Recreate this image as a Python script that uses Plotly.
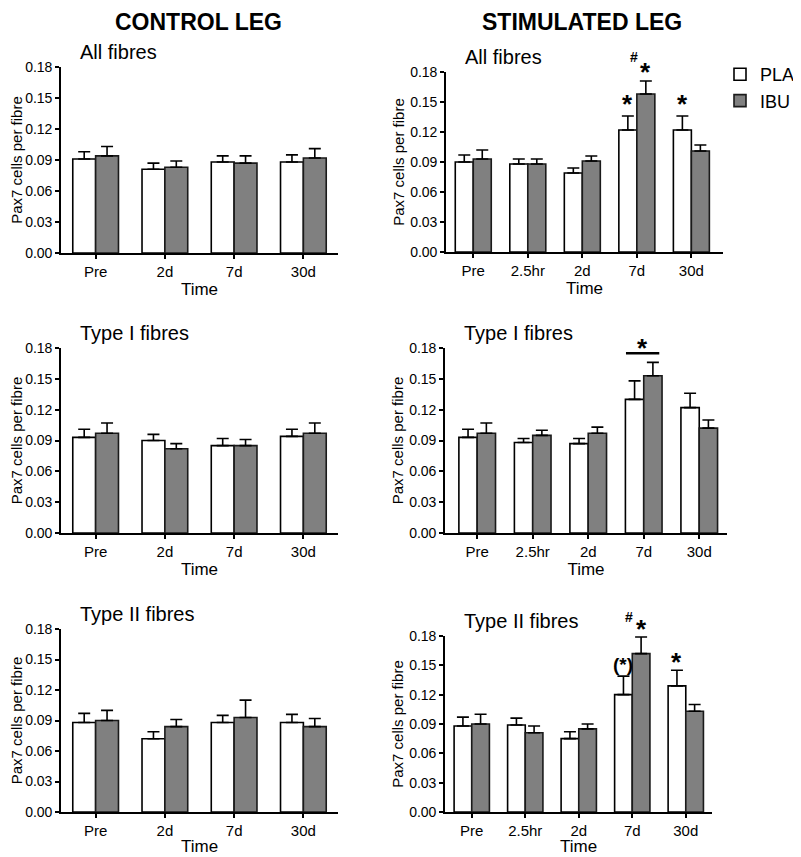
"""Pax7 cells per fibre: control vs stimulated leg, PLA vs IBU."""

import plotly.graph_objects as go

# the page body keeps its default 8px margin, so the figure is drawn 8px in
PAGE_PAD = 8
W, H = 801 - PAGE_PAD, 857 - PAGE_PAD
FONT = "Liberation Sans, Arial, Helvetica, sans-serif"

control_times = ["Pre", "2d", "7d", "30d"]
stim_times = ["Pre", "2.5hr", "2d", "7d", "30d"]

y_ticks = [0.00, 0.03, 0.06, 0.09, 0.12, 0.15, 0.18]
y_tick_text = ["0.00", "0.03", "0.06", "0.09", "0.12", "0.15", "0.18"]

# control leg
ctrl_all_pla = [0.091, 0.081, 0.088, 0.088]
ctrl_all_pla_err = [0.007, 0.006, 0.006, 0.007]
ctrl_all_ibu = [0.094, 0.083, 0.087, 0.092]
ctrl_all_ibu_err = [0.009, 0.006, 0.007, 0.009]

ctrl_t1_pla = [0.093, 0.090, 0.085, 0.094]
ctrl_t1_pla_err = [0.008, 0.006, 0.007, 0.007]
ctrl_t1_ibu = [0.097, 0.082, 0.085, 0.097]
ctrl_t1_ibu_err = [0.010, 0.005, 0.006, 0.010]

ctrl_t2_pla = [0.088, 0.072, 0.088, 0.088]
ctrl_t2_pla_err = [0.009, 0.007, 0.007, 0.008]
ctrl_t2_ibu = [0.090, 0.084, 0.093, 0.084]
ctrl_t2_ibu_err = [0.010, 0.007, 0.017, 0.008]

# stimulated leg
stim_all_pla = [0.090, 0.088, 0.079, 0.122, 0.122]
stim_all_pla_err = [0.007, 0.005, 0.005, 0.014, 0.014]
stim_all_ibu = [0.093, 0.088, 0.091, 0.158, 0.101]
stim_all_ibu_err = [0.009, 0.005, 0.005, 0.013, 0.006]

stim_t1_pla = [0.093, 0.088, 0.087, 0.130, 0.122]
stim_t1_pla_err = [0.008, 0.004, 0.005, 0.018, 0.014]
stim_t1_ibu = [0.097, 0.095, 0.097, 0.153, 0.102]
stim_t1_ibu_err = [0.010, 0.005, 0.006, 0.013, 0.008]

stim_t2_pla = [0.088, 0.089, 0.075, 0.120, 0.129]
stim_t2_pla_err = [0.009, 0.007, 0.007, 0.019, 0.016]
stim_t2_ibu = [0.090, 0.081, 0.085, 0.162, 0.103]
stim_t2_ibu_err = [0.010, 0.007, 0.005, 0.017, 0.007]

# significance marks: (panel, time, group, text)
sig_marks = [
    (2, "7d", "PLA", "*"),
    (2, "7d", "IBU", "*"),
    (2, "7d", "IBU", "#"),
    (2, "30d", "PLA", "*"),
    (6, "7d", "PLA", "(*)"),
    (6, "7d", "IBU", "*"),
    (6, "7d", "IBU", "#"),
    (6, "30d", "PLA", "*"),
]
# how far (px) each mark sits above its error bar
mark_lift_px = [15, 12, 25, 15, 13, 11, 21, 11]

# panel boxes in window pixels: x-left, x-right, y-top (0.18), y-bottom (0.00)
panels = [
    dict(title="All fibres", cats=control_times, box=(61, 338, 67, 253), xr=[-0.5, 3.5],
         pla=ctrl_all_pla, pla_err=ctrl_all_pla_err, ibu=ctrl_all_ibu, ibu_err=ctrl_all_ibu_err),
    dict(title="All fibres", cats=stim_times, box=(446, 723, 72, 252), xr=[-0.5, 4.58],
         pla=stim_all_pla, pla_err=stim_all_pla_err, ibu=stim_all_ibu, ibu_err=stim_all_ibu_err),
    dict(title="Type I fibres", cats=control_times, box=(61, 338, 348, 533), xr=[-0.5, 3.5],
         pla=ctrl_t1_pla, pla_err=ctrl_t1_pla_err, ibu=ctrl_t1_ibu, ibu_err=ctrl_t1_ibu_err),
    dict(title="Type I fibres", cats=stim_times, box=(445, 727, 348, 533), xr=[-0.58, 4.5],
         pla=stim_t1_pla, pla_err=stim_t1_pla_err, ibu=stim_t1_ibu, ibu_err=stim_t1_ibu_err),
    dict(title="Type II fibres", cats=control_times, box=(61, 338, 629, 812), xr=[-0.5, 3.5],
         pla=ctrl_t2_pla, pla_err=ctrl_t2_pla_err, ibu=ctrl_t2_ibu, ibu_err=ctrl_t2_ibu_err),
    dict(title="Type II fibres", cats=stim_times, box=(445, 712, 636, 812), xr=[-0.5, 4.49],
         pla=stim_t2_pla, pla_err=stim_t2_pla_err, ibu=stim_t2_ibu, ibu_err=stim_t2_ibu_err),
]

GROUPS = {"PLA": ("white", "black"), "IBU": ("#808080", "#1a1a1a")}
BAR_OFFSET = {"PLA": -0.165, "IBU": 0.165}


def fx(px):
    return (px - PAGE_PAD) / W


def fy(px):
    return 1 - (px - PAGE_PAD) / H


fig = go.Figure()
layout_axes = {}
annotations = []

for i, p in enumerate(panels, start=1):
    sfx = "" if i == 1 else str(i)
    x0, x1, yt, yb = p["box"]
    for name in ("PLA", "IBU"):
        fill, edge = GROUPS[name]
        vals = p[name.lower()]
        errs = p[name.lower() + "_err"]
        fig.add_trace(
            go.Bar(
                x=p["cats"],
                y=vals,
                name=name,
                marker={"color": fill, "line": {"color": edge, "width": 1.6}},
                error_y={
                    "type": "data",
                    "array": errs,
                    "arrayminus": [0] * len(errs),
                    "symmetric": False,
                    "color": "black",
                    "thickness": 1.6,
                    "width": 6,
                },
                xaxis="x" + sfx,
                yaxis="y" + sfx,
                showlegend=(i == 2),
                legendgroup=name,
            )
        )

    right = i % 2 == 0
    bottom_row = i >= 5
    layout_axes["xaxis" + sfx] = dict(
        domain=[fx(x0), fx(x1)],
        anchor="y" + sfx,
        range=p["xr"],
        showline=True,
        linecolor="black",
        linewidth=1.6,
        ticks="outside",
        ticklen=4,
        tickwidth=1.5,
        tickcolor="black",
        showgrid=False,
        zeroline=False,
        tickfont={"size": 15, "color": "black"},
        # the bottom row's title sits on the page edge, so it is drawn as an annotation
        title={
            "text": "" if bottom_row else "Time",
            "font": {"size": 17, "color": "black"},
            "standoff": 4,
        },
    )
    layout_axes["yaxis" + sfx] = dict(
        domain=[fy(yb), fy(yt)],
        anchor="x" + sfx,
        range=[0, 0.18],
        tickvals=y_ticks,
        ticktext=y_tick_text,
        showline=True,
        linecolor="black",
        linewidth=1.6,
        ticks="outside",
        ticklen=4,
        tickwidth=1.5,
        tickcolor="black",
        showgrid=False,
        zeroline=False,
        tickfont={"size": 14, "color": "black"},
        title={
            "text": "Pax7 cells per fibre",
            "font": {"size": 15, "color": "black"},
            "standoff": 2,
        },
    )
    annotations.append(
        dict(
            text=p["title"], x=fx(x0 + 17), y=fy(yt - 15), xref="paper", yref="paper",
            xanchor="left", yanchor="middle", showarrow=False,
            font={"size": 20, "color": "black"},
        )
    )
    if bottom_row:
        annotations.append(
            dict(
                text="Time", x=0.5, y=0, xref="x" + sfx + " domain", yref="paper",
                xanchor="center", yanchor="bottom", showarrow=False, borderpad=0,
                font={"size": 17, "color": "black"},
            )
        )

# significance marks above the error bars (anchored at the error-bar top, lifted in px)
for (panel_no, time, group, text), lift in zip(sig_marks, mark_lift_px):
    p = panels[panel_no - 1]
    idx = p["cats"].index(time)
    top = p[group.lower()][idx] + p[group.lower() + "_err"][idx]
    sfx = "" if panel_no == 1 else str(panel_no)
    if text == "#":
        xpos, size, glyph_rise = idx - 0.06, 14, 1
    elif text == "*":
        xpos, size, glyph_rise = idx + BAR_OFFSET[group], 26, 3
    else:
        xpos, size, glyph_rise = idx + BAR_OFFSET[group], 19, 1
    annotations.append(
        dict(
            text=f"<b>{text}</b>", x=xpos, y=top, xref="x" + sfx, yref="y" + sfx,
            xanchor="center", yanchor="middle", showarrow=False, yshift=lift - glyph_rise,
            font={"size": size, "color": "black"},
        )
    )

# significance bar over 7d in type I stimulated
p4 = panels[3]
i7 = p4["cats"].index("7d")
bar_y = max(p4["pla"][i7] + p4["pla_err"][i7], p4["ibu"][i7] + p4["ibu_err"][i7]) + 0.009
shapes = [
    dict(type="line", xref="x4", yref="y4", x0=i7 - 0.32, x1=i7 + 0.28, y0=bar_y, y1=bar_y,
         line={"color": "black", "width": 2.5})
]
annotations.append(
    dict(text="<b>*</b>", x=i7 - 0.02, y=bar_y, xref="x4", yref="y4", xanchor="center",
         yanchor="middle", showarrow=False, yshift=5, font={"size": 26, "color": "black"})
)

# column headers
for text, xc in (("CONTROL LEG", 198), ("STIMULATED LEG", 582)):
    annotations.append(
        dict(text=f"<b>{text}</b>", x=fx(xc), y=1, xref="paper", yref="paper",
             xanchor="center", yanchor="top", showarrow=False, borderpad=0,
             font={"size": 23, "color": "black"})
    )

fig.update_layout(
    width=W,
    height=H,
    margin={"l": 0, "r": 0, "t": 0, "b": 0, "autoexpand": False},
    paper_bgcolor="white",
    plot_bgcolor="white",
    font={"family": FONT, "color": "black"},
    barmode="group",
    bargap=0.34,
    bargroupgap=0,
    legend={
        "x": fx(720),
        "y": fy(56),
        "xanchor": "left",
        "yanchor": "top",
        "font": {"size": 18, "color": "black"},
        "bgcolor": "rgba(0,0,0,0)",
        "tracegroupgap": 0,
    },
    annotations=annotations,
    shapes=shapes,
    **layout_axes,
)

fig.write_html("out.html")
